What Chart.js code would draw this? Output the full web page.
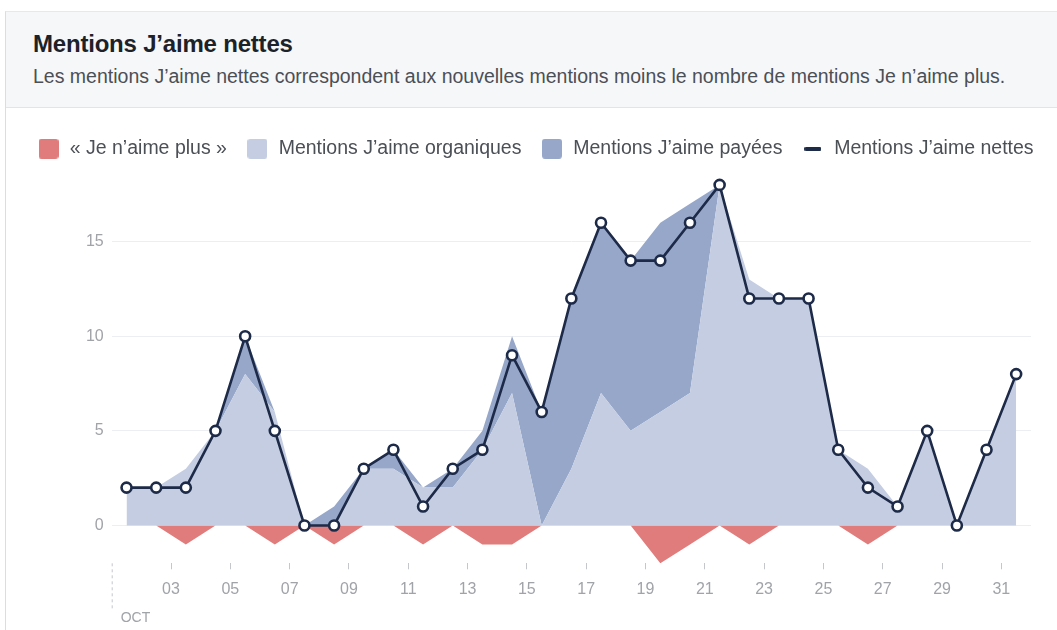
<!DOCTYPE html>
<html><head><meta charset="utf-8">
<script src="https://cdn.jsdelivr.net/npm/chart.js@4.4.1/dist/chart.umd.min.js"></script>
<style>
html,body{margin:0;padding:0;background:#fff;width:1057px;height:630px;overflow:hidden;font-family:"Liberation Sans",Arial,sans-serif;}
#panel{position:absolute;left:5px;top:11px;width:1052px;height:619px;border-left:1px solid #dadde1;border-top:1px solid #e6e8eb;}
#head{position:absolute;left:0;top:0;width:1052px;height:95px;background:#f6f7f9;border-bottom:1px solid #e2e4e8;}
#title{position:absolute;left:27px;top:18px;font-size:24px;font-weight:bold;color:#1d2129;white-space:nowrap;letter-spacing:-0.2px;}
#sub{position:absolute;left:27px;top:53px;font-size:19.5px;color:#4b4f56;white-space:nowrap;}
#wrap{position:absolute;left:6px;top:108px;width:1051px;height:522px;}
</style></head>
<body>
<div id="panel"><div id="head"><div id="title">Mentions J’aime nettes</div><div id="sub">Les mentions J’aime nettes correspondent aux nouvelles mentions moins le nombre de mentions Je n’aime plus.</div></div></div>
<div id="wrap"><canvas id="c" width="1051" height="522"></canvas></div>
<script>
// ---- data ----
const days = [1,2,3,4,5,6,7,8,9,10,11,12,13,14,15,16,17,18,19,20,21,22,23,24,25,26,27,28,29,30,31];
const unlikes = [0,0,-1,0,0,-1,0,-1,0,0,-1,0,-1,-1,0,0,0,0,-2,-1,0,-1,0,0,0,-1,0,0,0,0,0];
const organic = [2,2,3,5,8,6,0,0,3,3,2,2,4,7,0,3,7,5,6,7,18,13,12,12,4,3,1,5,0,4,8];
const paid    = [0,0,0,0,2,0,0,1,0,1,0,1,1,3,6,9,9,9,10,10,0,0,0,0,0,0,0,0,0,0,0];
const net     = [2,2,2,5,10,5,0,0,3,4,1,3,4,9,6,12,16,14,14,16,18,12,12,12,4,2,1,5,0,4,8];
const xTickDays = [3,5,7,9,11,13,15,17,19,21,23,25,27,29,31];
const yTickValues = [0,5,10,15];
const monthLabel = 'OCT';
const seriesNames = ['« Je n’aime plus »','Mentions J’aime organiques','Mentions J’aime payées','Mentions J’aime nettes'];

const RED='rgb(225,124,124)', LIGHT='rgb(196,205,225)', DARK='rgb(150,167,202)', NAVY='rgb(29,42,72)';
const toPts = arr => arr.map((v,i)=>({x:days[i]-0.5, y:v}));

function boxImg(color){const c=document.createElement('canvas');c.width=20;c.height=20;const g=c.getContext('2d');g.fillStyle=color;g.beginPath();g.roundRect(0,0,20,20,3);g.fill();return c;}
function dashImg(color){const c=document.createElement('canvas');c.width=17;c.height=4;const g=c.getContext('2d');g.fillStyle=color;g.beginPath();g.roundRect(0,0,17,4,1.5);g.fill();return c;}
const legendImgs=[boxImg(RED),boxImg(LIGHT),boxImg(DARK),dashImg(NAVY)];

Chart.defaults.font.family="'Liberation Sans', Arial, sans-serif";

const octPlugin={id:'oct',afterDraw(chart){const ctx=chart.ctx,a=chart.chartArea,x=chart.scales.x.getPixelForValue(0);
  ctx.save();ctx.strokeStyle='#c4c7cc';ctx.lineWidth=1;ctx.setLineDash([3,3]);ctx.beginPath();ctx.moveTo(x+0.5,a.bottom);ctx.lineTo(x+0.5,a.bottom+47);ctx.stroke();
  ctx.setLineDash([]);ctx.fillStyle='#a0a3a8';ctx.font="14px 'Liberation Sans', Arial, sans-serif";ctx.textBaseline='middle';ctx.textAlign='left';ctx.fillText(monthLabel,x+9,a.bottom+55);ctx.restore();}};

const chart=new Chart(document.getElementById('c'),{
  type:'line',
  data:{datasets:[
    {label:seriesNames[0],data:toPts(unlikes),stack:'neg',backgroundColor:RED,borderWidth:0,pointRadius:0,fill:'origin',order:3},
    {label:seriesNames[1],data:toPts(organic),stack:'pos',backgroundColor:LIGHT,borderWidth:0,pointRadius:0,fill:'origin',order:1},
    {label:seriesNames[2],data:toPts(paid),stack:'pos',backgroundColor:DARK,borderWidth:0,pointRadius:0,fill:'-1',order:2},
    {label:seriesNames[3],data:toPts(net),stack:'net',borderColor:NAVY,borderWidth:2.6,backgroundColor:'#fff',pointRadius:5,pointBorderWidth:2.6,pointBackgroundColor:'#fff',pointBorderColor:NAVY,fill:false,order:0}
  ]},
  options:{
    animation:false,responsive:false,
    layout:{padding:{left:12,right:0,top:12,bottom:0}},
    plugins:{
      tooltip:{enabled:false},
      legend:{position:'top',align:'start',labels:{usePointStyle:true,pointStyleWidth:23,padding:19,color:'#4b4f56',font:{size:19.5},
        generateLabels:()=>seriesNames.map((t,i)=>({text:t,pointStyle:legendImgs[i],fillStyle:'transparent',strokeStyle:'transparent',lineWidth:0,hidden:false,datasetIndex:i,fontColor:'#4b4f56'}))}}
    },
    scales:{
      x:{type:'linear',min:0,max:31,
        afterBuildTicks:s=>{s.ticks=xTickDays.map(d=>({value:d-1}));},
        afterFit:s=>{s.height=66.7;},
        ticks:{autoSkip:false,maxRotation:0,padding:11,color:'#a0a3a8',font:{size:16},callback:v=>String(v+1).padStart(2,'0')},
        grid:{drawOnChartArea:false,drawTicks:true,tickLength:6,tickColor:'#c4c7cc'},border:{display:false}},
      y:{stacked:true,min:-2,max:19,
        afterBuildTicks:s=>{s.ticks=yTickValues.map(v=>({value:v}));},
        afterFit:s=>{s.width=93.7;},
        ticks:{padding:8,color:'#a0a3a8',font:{size:16}},
        grid:{color:'#eceef1',drawTicks:false},border:{display:false}},
      yPad:{position:'right',display:true,min:0,max:1,
        afterFit:s=>{s.width=26;},
        ticks:{display:false},grid:{display:false,drawTicks:false},border:{display:false}}
    }
  },
  plugins:[octPlugin]
});
const lg=chart.legend;
const origFit=lg.fit.bind(lg), origDraw=lg.draw.bind(lg);
lg.fit=function(){const mw=this.maxWidth;this.maxWidth=1600;origFit();this.maxWidth=mw;this.width=mw;this.height=46;};
lg.draw=function(){const r=this.right;this.right=1600;origDraw();this.right=r;};
chart.update('none');
</script>
</body></html>
